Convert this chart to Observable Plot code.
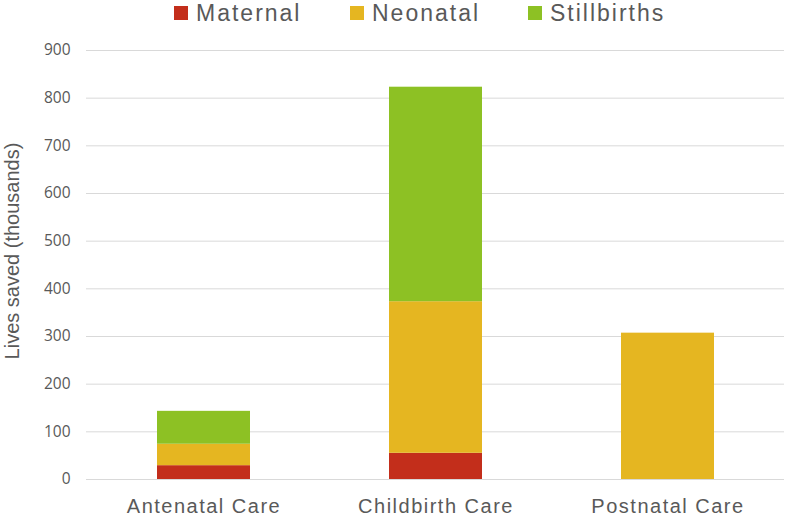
<!DOCTYPE html>
<html>
<head>
<meta charset="utf-8">
<script src="https://cdn.jsdelivr.net/npm/d3@7"></script>
<script src="https://cdn.jsdelivr.net/npm/@observablehq/plot@0.6"></script>
<style>
  html, body { margin: 0; padding: 0; background: #fff; }
  #wrap { position: relative; width: 785px; height: 516px; overflow: hidden; }
  #legend { position: relative; height: 30px; font-family: "Liberation Sans", Arial, sans-serif; font-size: 23px; color: #595959; letter-spacing: 2px; }
  .item { position: absolute; top: 0; height: 30px; display: flex; align-items: flex-start; }
  .sw { width: 14px; height: 14px; margin-top: 6px; margin-right: 8px; }
  .lab { line-height: 26px; }
  svg { display: block; }
  g[aria-label="x-axis tick label"] text { letter-spacing: 1.5px; }
</style>
</head>
<body>
<div id="wrap">
  <div id="legend"></div>
  <div id="chart"></div>
</div>
<script>
const categories = ["Antenatal Care", "Childbirth Care", "Postnatal Care"];
const series = ["Maternal", "Neonatal", "Stillbirths"];
const colors = ["#C32E1B", "#E5B621", "#8DC124"];
const maternal = [29, 55, 0];
const neonatal = [45, 318, 307];
const stillbirths = [69, 450, 0];
const yTicks = [0, 100, 200, 300, 400, 500, 600, 700, 800, 900];
const legendX = [174, 350, 528];

const valuesBySeries = [maternal, neonatal, stillbirths];
const rows = [];
categories.forEach((c, i) => {
  series.forEach((s, j) => {
    rows.push({category: c, series: s, value: valuesBySeries[j][i]});
  });
});

// legend
const legend = document.getElementById("legend");
series.forEach((s, j) => {
  const item = document.createElement("div");
  item.className = "item";
  item.style.left = legendX[j] + "px";
  item.innerHTML = `<div class="sw" style="background:${colors[j]}"></div><div class="lab">${s}</div>`;
  legend.appendChild(item);
});

const chart = Plot.plot({
  width: 785,
  height: 486,
  marginLeft: 86,
  marginRight: 1,
  marginTop: 20,
  marginBottom: 37,
  style: {fontFamily: "'Open Sans', sans-serif", color: "#595959", background: "#fff"},
  x: {domain: categories, paddingInner: 0.6, paddingOuter: 0.3, label: null},
  y: {domain: [0, 900], label: null},
  color: {domain: series, range: colors},
  marks: [
    Plot.gridY(yTicks, {stroke: "#D9D9D9", strokeOpacity: 1, strokeWidth: 1}),
    Plot.axisY(yTicks, {tickSize: 0, tickPadding: 16, fontSize: 15.5, fill: "#595959", label: null}),
    Plot.text(["Lives saved (thousands)"], {
      frameAnchor: "left", textAnchor: "middle", dx: -74, dy: -14, rotate: -90, fontSize: 20,
      fill: "#595959", fontFamily: "'Liberation Sans', Arial, sans-serif",
      style: "letter-spacing:0.6px"
    }),
    Plot.axisX({tickSize: 0, tickPadding: 19, fontSize: 20, fill: "#595959", label: null,
      fontFamily: "'Liberation Sans', Arial, sans-serif"}),
    Plot.barY(rows, {x: "category", y: "value", fill: "series", order: series})
  ]
});
document.getElementById("chart").appendChild(chart);
</script>
</body>
</html>
